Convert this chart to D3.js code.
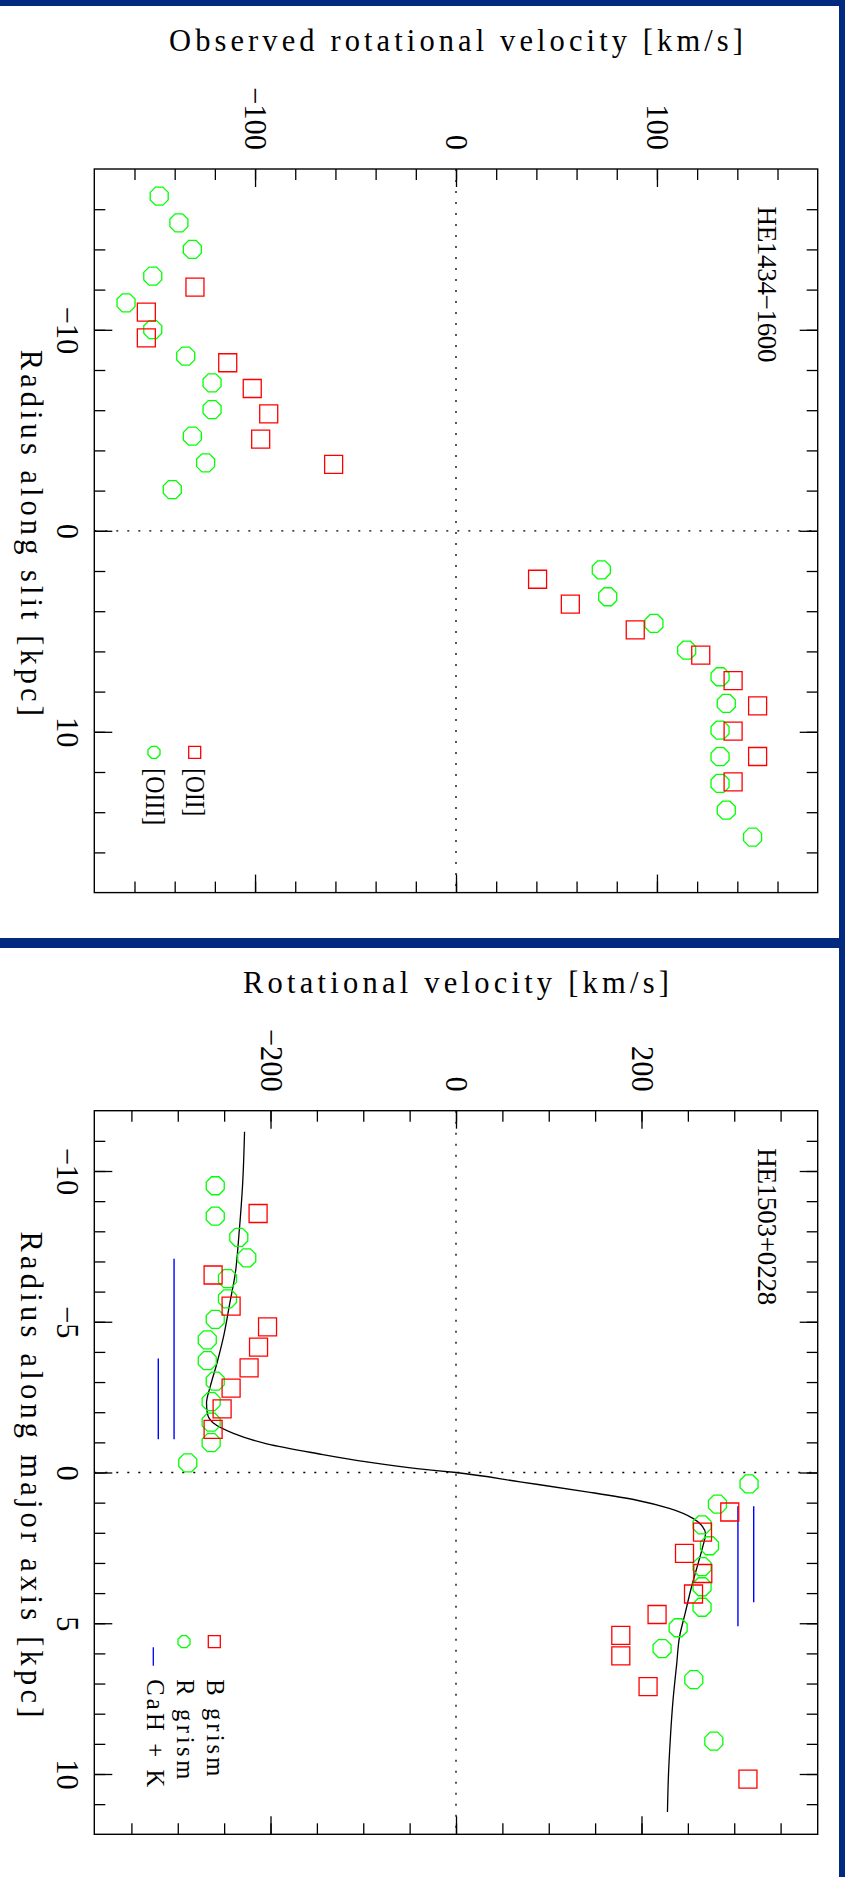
<!DOCTYPE html>
<html>
<head>
<meta charset="utf-8">
<script src="https://cdn.jsdelivr.net/npm/d3@7"></script>
<style>
  html, body { margin: 0; padding: 0; background: #ffffff; }
  svg { display: block; }
</style>
</head>
<body>
<script>
// ---------------- DATA ----------------
// Panel 1: HE1434-1600 (radius along slit [kpc], observed velocity [km/s])
const P1_NAME = "HE1434\u22121600";
const P1_OII_R  = [-12.12, -10.88, -9.60, -8.36, -7.08, -5.82, -4.56, -3.30, 2.41, 3.65, 4.93, 6.19, 7.45, 8.71, 9.97, 11.23, 12.49];
const P1_OII_V  = [-129.9, -154.1, -154.1, -113.6, -101.4, -93.2, -97.2, -60.9, 40.6, 56.9, 89.2, 121.8, 137.9, 150.1, 137.9, 150.1, 137.9];
const P1_OIII_R = [-16.65, -15.32, -14.0, -12.67, -11.34, -10.01, -8.69, -7.36, -6.03, -4.71, -3.38, -2.05, 1.94, 3.28, 4.61, 5.94, 7.26, 8.59, 9.92, 11.24, 12.57, 13.90, 15.24];
const P1_OIII_V = [-147.7, -137.9, -131.2, -150.9, -164.2, -150.9, -134.5, -121.4, -121.4, -131.2, -124.6, -141.2, 72.3, 75.5, 98.5, 114.8, 131.4, 134.5, 131.4, 131.4, 131.4, 134.5, 147.6];
const P1_V_DOMAIN = [-180, 180];
const P1_R_DOMAIN = [-18, 18];
const P1_V_MAJOR = [-100, 0, 100];
const P1_V_MINOR = d3.range(-160, 161, 20);
const P1_R_MAJOR = [-10, 0, 10];
const P1_R_MINOR = d3.range(-16, 17, 2);
const P1_XLABEL = "Observed rotational velocity [km/s]";
const P1_YLABEL = "Radius along slit [kpc]";
const P1_LEGEND = ["[OII]", "[OIII]"];

// Panel 2: HE1503+0228
const P2_NAME = "HE1503+0228";
const P2_B_R = [-8.59, -6.55, -5.52, -4.83, -4.16, -3.47, -2.80, -2.11, -1.43, 1.31, 1.98, 2.68, 3.35, 4.03, 4.71, 5.40, 6.08, 7.10, 10.17];
const P2_B_V = [-213.4, -261.9, -242.5, -203.2, -212.9, -223.1, -242.5, -252.2, -261.9, 295.2, 265.8, 246.4, 266.1, 256.1, 216.8, 177.7, 177.7, 207.1, 314.8];
const P2_R_R = [-9.51, -8.50, -7.80, -7.12, -6.43, -5.76, -5.08, -4.40, -3.71, -3.03, -2.35, -1.67, -0.99, -0.32, 0.38, 1.05, 1.74, 2.43, 3.12, 3.79, 4.47, 5.15, 5.84, 6.87, 8.91];
const P2_R_V = [-259.6, -259.6, -234.2, -225.6, -246.4, -246.4, -259.6, -268.2, -268.2, -259.6, -264.0, -264.0, -264.0, -289.2, 316.0, 281.9, 265.3, 273.3, 265.3, 265.3, 265.3, 239.5, 222.2, 256.4, 278.0];
const P2_CAHK_V  = [-304, -321, 304, 321];
const P2_CAHK_R0 = [-7.09, -3.78, 1.12, 1.12];
const P2_CAHK_R1 = [-1.10, -1.10, 5.10, 4.30];
const P2_MODEL_R = [-11.3, -9.6, -7.9, -6.6, -5.6, -4.6, -3.6, -2.85, -2.3, -1.95, -1.65, -1.3, -0.95, -0.63, -0.35, -0.13, 0, 0.31, 0.64, 0.92, 1.19, 1.53, 1.8, 2.02, 2.47, 3.02, 3.79, 4.68, 5.45, 6.34, 7.55, 8.88, 10.1, 11.26];
const P2_MODEL_V = [-228, -230, -234, -238, -244, -250, -258, -265, -269, -268, -262, -240, -204, -150, -96, -42, 0, 69, 141, 195, 230, 256, 266, 269, 266, 261, 254, 247, 241, 238, 234, 231, 229, 228];
const P2_V_DOMAIN = [-390, 390];
const P2_R_DOMAIN = [-12, 12];
const P2_V_MAJOR = [-200, 0, 200];
const P2_V_MINOR = d3.range(-350, 351, 50);
const P2_R_MAJOR = [-10, -5, 0, 5, 10];
const P2_R_MINOR = d3.range(-11, 12, 1);
const P2_XLABEL = "Rotational velocity [km/s]";
const P2_YLABEL = "Radius along major axis [kpc]";
const P2_LEGEND = ["B grism", "R grism", "CaH + K"];

// ---------------- STYLE ----------------
const W = 845, H = 1877;
const NAVY = "#022a80";
const GREEN = "#00ff00", RED = "#ff0000", BLUE = "#0000ff";
const FONT = "Liberation Serif, Times New Roman, serif";

const OCTAGON = {
  draw(ctx, size) {
    const h = Math.sqrt(size) / 2;
    const R = h / Math.cos(Math.PI / 8);
    for (let k = 0; k < 8; k++) {
      const a = Math.PI / 8 + k * Math.PI / 4;
      const px = R * Math.cos(a), py = R * Math.sin(a);
      if (k === 0) ctx.moveTo(px, py); else ctx.lineTo(px, py);
    }
    ctx.closePath();
  }
};

const svg = d3.select("body").append("svg")
  .attr("width", W).attr("height", H)
  .attr("viewBox", `0 0 ${W} ${H}`)
  .style("font-family", FONT);

svg.append("rect").attr("width", W).attr("height", H).attr("fill", "#fff");
svg.append("rect").attr("x", 0).attr("y", 0).attr("width", W).attr("height", 6).attr("fill", NAVY);
svg.append("rect").attr("x", 0).attr("y", 938).attr("width", W).attr("height", 10).attr("fill", NAVY);
svg.append("rect").attr("x", 839).attr("y", 0).attr("width", 6).attr("height", H).attr("fill", NAVY);

function zip(a, b) { return a.map((d, i) => ({ r: d, v: b[i] })); }

function drawPanel(cfg) {
  const x = d3.scaleLinear().domain(cfg.vDomain).range([94.3, 817.7]);
  const y = d3.scaleLinear().domain(cfg.rDomain).range([cfg.top, cfg.top + 723.6]);
  const [x0, x1] = x.range(), [y0, y1] = y.range();
  const g = svg.append("g");

  // zero lines (dotted)
  g.append("line").attr("x1", x(0)).attr("x2", x(0)).attr("y1", y0).attr("y2", y1)
    .attr("stroke", "#000").attr("stroke-width", 1.3).attr("stroke-dasharray", "2,9");
  g.append("line").attr("x1", x0).attr("x2", x1).attr("y1", y(0)).attr("y2", y(0))
    .attr("stroke", "#000").attr("stroke-width", 1.3).attr("stroke-dasharray", "2,9");

  // axes: minor + major ticks on four sides, inward
  function addAxis(axisFn, scale, values, size, transform, labels) {
    const ax = axisFn(scale).tickValues(values).tickSizeInner(-size).tickSizeOuter(0);
    if (!labels) ax.tickFormat("");
    const a = g.append("g").attr("transform", transform).call(ax);
    a.select(".domain").remove();
    a.selectAll(".tick line").attr("stroke", "#000").attr("stroke-width", 1.3);
    a.attr("font-family", FONT).attr("font-size", 30.5);
    return a;
  }
  addAxis(d3.axisTop, x, cfg.vMinor, 11, `translate(0,${y0})`, false);
  addAxis(d3.axisBottom, x, cfg.vMinor, 11, `translate(0,${y1})`, false);
  addAxis(d3.axisLeft, y, cfg.rMinor, 11, `translate(${x0},0)`, false);
  addAxis(d3.axisRight, y, cfg.rMinor, 11, `translate(${x1},0)`, false);
  addAxis(d3.axisBottom, x, cfg.vMajor, 18, `translate(0,${y1})`, false);
  addAxis(d3.axisRight, y, cfg.rMajor, 18, `translate(${x1},0)`, false);

  const topAx = addAxis(d3.axisTop, x, cfg.vMajor, 18, `translate(0,${y0})`, true);
  topAx.selectAll(".tick text")
    .attr("x", 0).attr("y", 0).attr("dy", "0.34em")
    .attr("fill", "#000")
    .attr("text-anchor", "end")
    .attr("transform", "translate(0,-19) rotate(90)");

  const leftAx = addAxis(d3.axisLeft, y, cfg.rMajor, 18, `translate(${x0},0)`, true);
  leftAx.selectAll(".tick text")
    .attr("x", 0).attr("y", 0).attr("dy", 0)
    .attr("fill", "#000")
    .attr("text-anchor", "middle")
    .attr("transform", "translate(-37.6,0) rotate(90)");

  // frame
  g.append("rect").attr("x", x0).attr("y", y0).attr("width", x1 - x0).attr("height", y1 - y0)
    .attr("fill", "none").attr("stroke", "#000").attr("stroke-width", 1.4);

  // axis titles
  g.append("text").attr("x", (x0 + x1) / 2).attr("y", y0 - 118)
    .attr("text-anchor", "middle").attr("font-family", FONT).attr("font-size", 30.5)
    .attr("textLength", cfg.xLabelLen).attr("lengthAdjust", "spacing")
    .text(cfg.xLabel);
  g.append("text")
    .attr("transform", `translate(21,${(y0 + y1) / 2 + 2}) rotate(90)`)
    .attr("text-anchor", "middle").attr("font-family", FONT).attr("font-size", 30.5)
    .attr("textLength", cfg.yLabelLen).attr("lengthAdjust", "spacing")
    .text(cfg.yLabel);

  // object name
  g.append("text")
    .attr("transform", `translate(758,${y0 + 37.5}) rotate(90)`)
    .attr("font-family", FONT).attr("font-size", 27)
    .attr("textLength", cfg.nameLen).attr("lengthAdjust", "spacing")
    .text(cfg.name);

  return { g, x, y };
}

function markers(g, x, y, data, type, color, size) {
  g.append("g").selectAll("path").data(data).join("path")
    .attr("transform", d => `translate(${x(d.v)},${y(d.r)})`)
    .attr("d", d3.symbol().type(type).size(size))
    .attr("fill", "none").attr("stroke", color).attr("stroke-width", 1.3);
}

// ---------------- PANEL 1 ----------------
{
  const { g, x, y } = drawPanel({
    top: 169, vDomain: P1_V_DOMAIN, rDomain: P1_R_DOMAIN,
    vMajor: P1_V_MAJOR, vMinor: P1_V_MINOR, rMajor: P1_R_MAJOR, rMinor: P1_R_MINOR,
    xLabel: P1_XLABEL, yLabel: P1_YLABEL, xLabelLen: 574, yLabelLen: 366,
    name: P1_NAME, nameLen: 156
  });
  markers(g, x, y, zip(P1_OIII_R, P1_OIII_V), OCTAGON, GREEN, 18 * 18);
  markers(g, x, y, zip(P1_OII_R, P1_OII_V), d3.symbolSquare, RED, 18 * 18);

  // legend
  const lg = g.append("g").attr("font-family", FONT).attr("font-size", 27);
  const legY = 752.3;
  lg.append("path").attr("transform", `translate(194.7,${legY})`)
    .attr("d", d3.symbol().type(d3.symbolSquare).size(144))
    .attr("fill", "none").attr("stroke", RED).attr("stroke-width", 1.3);
  lg.append("path").attr("transform", `translate(154,${legY})`)
    .attr("d", d3.symbol().type(OCTAGON).size(144))
    .attr("fill", "none").attr("stroke", GREEN).attr("stroke-width", 1.3);
  lg.append("text").attr("transform", `translate(185.5,${legY + 16}) rotate(90)`)
    .attr("textLength", 48).attr("lengthAdjust", "spacingAndGlyphs").text(P1_LEGEND[0]);
  lg.append("text").attr("transform", `translate(146,${legY + 16}) rotate(90)`)
    .attr("textLength", 57).attr("lengthAdjust", "spacingAndGlyphs").text(P1_LEGEND[1]);
}

// ---------------- PANEL 2 ----------------
{
  const { g, x, y } = drawPanel({
    top: 1110.7, vDomain: P2_V_DOMAIN, rDomain: P2_R_DOMAIN,
    vMajor: P2_V_MAJOR, vMinor: P2_V_MINOR, rMajor: P2_R_MAJOR, rMinor: P2_R_MINOR,
    xLabel: P2_XLABEL, yLabel: P2_YLABEL, xLabelLen: 426, yLabelLen: 486,
    name: P2_NAME, nameLen: 157
  });

  // model curve
  const line = d3.line().x(d => x(d.v)).y(d => y(d.r)).curve(d3.curveMonotoneY);
  g.append("path").datum(zip(P2_MODEL_R, P2_MODEL_V)).attr("d", line)
    .attr("fill", "none").attr("stroke", "#000").attr("stroke-width", 1.3);

  // CaH + K lines
  g.append("g").selectAll("line").data(P2_CAHK_V.map((v, i) => ({ v, r0: P2_CAHK_R0[i], r1: P2_CAHK_R1[i] })))
    .join("line")
    .attr("x1", d => x(d.v)).attr("x2", d => x(d.v))
    .attr("y1", d => y(d.r0)).attr("y2", d => y(d.r1))
    .attr("stroke", BLUE).attr("stroke-width", 1.4);

  markers(g, x, y, zip(P2_R_R, P2_R_V), OCTAGON, GREEN, 18 * 18);
  markers(g, x, y, zip(P2_B_R, P2_B_V), d3.symbolSquare, RED, 18 * 18);

  // legend
  const lg = g.append("g").attr("font-family", FONT).attr("font-size", 24.5);
  const legY = 1641.7;
  lg.append("path").attr("transform", `translate(214.3,${legY})`)
    .attr("d", d3.symbol().type(d3.symbolSquare).size(144))
    .attr("fill", "none").attr("stroke", RED).attr("stroke-width", 1.3);
  lg.append("path").attr("transform", `translate(184,${legY})`)
    .attr("d", d3.symbol().type(OCTAGON).size(144))
    .attr("fill", "none").attr("stroke", GREEN).attr("stroke-width", 1.3);
  lg.append("line").attr("x1", 153.3).attr("x2", 153.3).attr("y1", legY + 5.6).attr("y2", legY + 24)
    .attr("stroke", BLUE).attr("stroke-width", 1.3);
  const lx = [206.7, 176.7, 146.7], ll = [97, 100, 108];
  P2_LEGEND.forEach((t, i) => {
    lg.append("text").attr("transform", `translate(${lx[i]},${legY + 37.6}) rotate(90)`)
      .attr("textLength", ll[i]).attr("lengthAdjust", "spacing").text(t);
  });
}
</script>
</body>
</html>
